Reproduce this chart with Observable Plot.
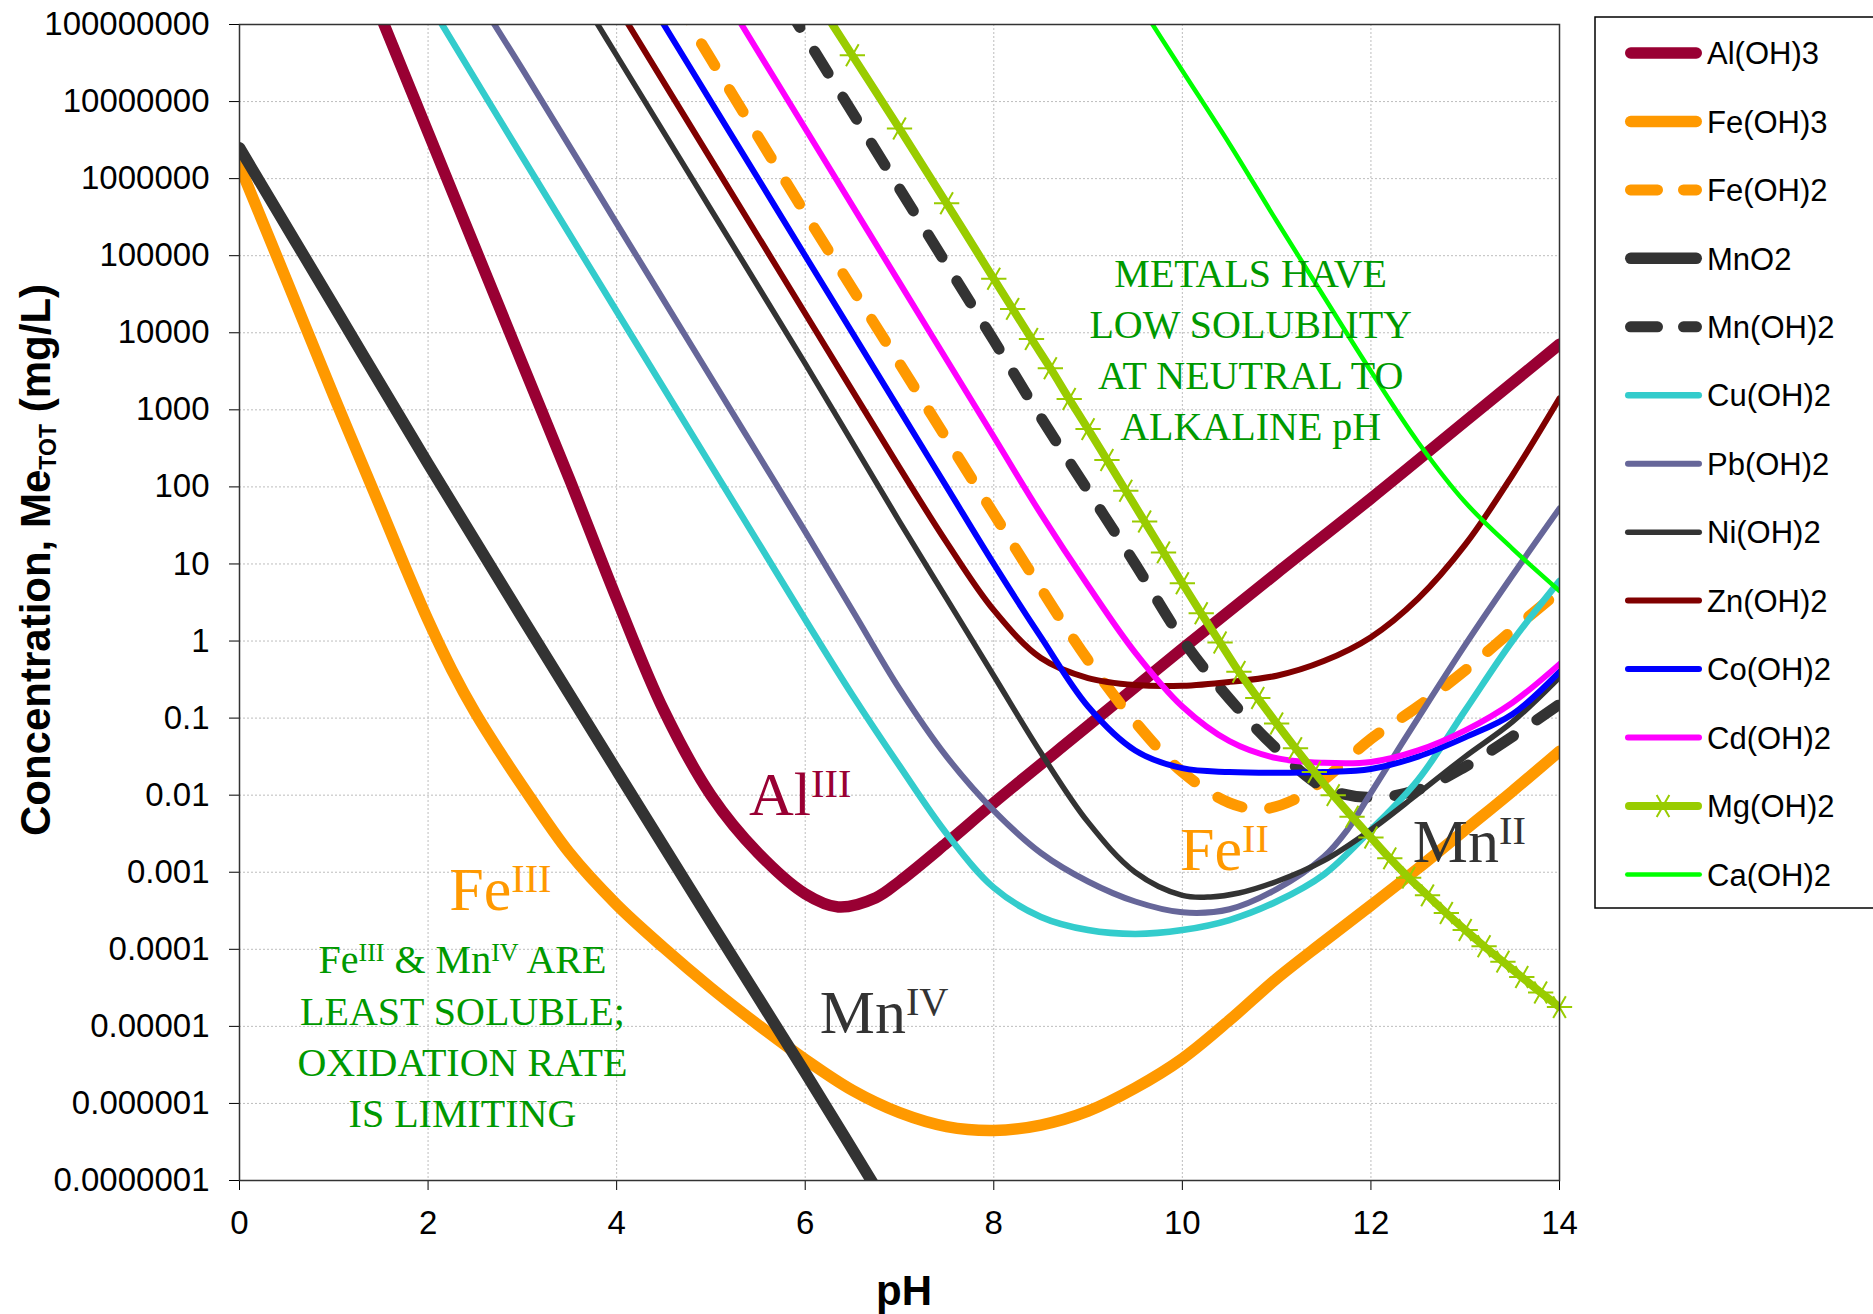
<!DOCTYPE html>
<html>
<head>
<meta charset="utf-8">
<script src="https://cdn.jsdelivr.net/npm/d3@7"></script>
<script src="https://cdn.jsdelivr.net/npm/@observablehq/plot@0.6"></script>
<style>
html, body { margin: 0; padding: 0; background: #fff; }
#wrap { position: relative; width: 1873px; height: 1314px; overflow: hidden; background: #fff; }
</style>
</head>
<body>
<div id="wrap"></div>
<script>
// ---------- axis ticks ----------
const xTicks = [0, 2, 4, 6, 8, 10, 12, 14];
const yTicks = [1e-7, 1e-6, 1e-5, 1e-4, 1e-3, 1e-2, 1e-1, 1, 10, 100, 1e3, 1e4, 1e5, 1e6, 1e7, 1e8];
const yTickLabels = ["0.0000001", "0.000001", "0.00001", "0.0001", "0.001", "0.01", "0.1", "1", "10", "100",
  "1000", "10000", "100000", "1000000", "10000000", "100000000"];

// ---------- series: [pH, log10 concentration (mg/L)] ----------
const alOH3 = [[1.4,8.4],[2,6.6],[2.5,5.1],[3,3.6],[3.5,2.1],[4,0.55],[4.5,-0.9],[5,-2.0],[5.5,-2.75],[6,-3.28],[6.35,-3.45],[6.75,-3.33],[7,-3.12],[7.5,-2.62],[8,-2.1],[9,-1.1],[10,-0.1],[11,0.88],[12,1.85],[13,2.85],[14,3.85]];
const feOH3 = [[0,6.17],[0.5,4.68],[1,3.18],[1.5,1.72],[1.75,0.98],[2,0.27],[2.25,-0.37],[2.5,-0.93],[2.75,-1.42],[3,-1.88],[3.5,-2.75],[4,-3.42],[4.5,-3.98],[5,-4.5],[5.5,-4.98],[6,-5.43],[6.5,-5.83],[7,-6.12],[7.5,-6.3],[8,-6.35],[8.5,-6.28],[9,-6.1],[9.5,-5.8],[10,-5.42],[10.5,-4.92],[11,-4.38],[11.5,-3.9],[12,-3.43],[12.5,-2.95],[13,-2.45],[13.5,-1.95],[14,-1.43]];
const feOH2 = [[4.6,8.35],[5,7.55],[6,5.55],[7,3.6],[8,1.65],[8.5,0.68],[9,-0.25],[9.5,-1.05],[10,-1.7],[10.5,-2.1],[10.85,-2.18],[11.2,-2.05],[11.5,-1.8],[12,-1.27],[12.5,-0.85],[13,-0.38],[13.5,0.14],[14,0.65]];
const mnO2 = [[0,6.4],[1,4.35],[2,2.3],[3,0.3],[4,-1.68],[5,-3.65],[6,-5.6],[7,-7.6]];
const mnOH2 = [[5.8,8.25],[6,7.85],[7,5.87],[8,3.9],[8.5,2.9],[9,1.95],[9.5,1.0],[10,0.02],[10.5,-0.75],[11,-1.4],[11.5,-1.9],[12,-2.03],[12.5,-1.93],[13,-1.63],[13.5,-1.24],[14,-0.82]];
const cuOH2 = [[2.0,8.3],[3,6.28],[4,4.28],[5,2.28],[5.5,1.28],[6,0.28],[6.5,-0.7],[7,-1.62],[7.5,-2.5],[8,-3.2],[8.5,-3.58],[9,-3.75],[9.5,-3.8],[10,-3.75],[10.5,-3.62],[11,-3.38],[11.5,-3.03],[12,-2.45],[12.5,-1.8],[13,-0.9],[13.5,0.0],[14,0.78]];
const pbOH2 = [[2.55,8.3],[3,7.42],[4,5.42],[5,3.42],[5.5,2.42],[6,1.42],[6.5,0.4],[7,-0.62],[7.5,-1.5],[8,-2.2],[8.5,-2.75],[9,-3.12],[9.5,-3.38],[10,-3.52],[10.5,-3.48],[11,-3.22],[11.5,-2.8],[11.75,-2.45],[12,-1.97],[12.5,-1.0],[13,-0.05],[13.5,0.85],[14,1.72]];
const niOH2 = [[3.65,8.3],[4,7.6],[5,5.6],[6,3.6],[7,1.55],[7.5,0.55],[8,-0.45],[8.5,-1.45],[9,-2.35],[9.5,-3.0],[10,-3.3],[10.3,-3.32],[10.6,-3.27],[11,-3.12],[11.5,-2.85],[12,-2.45],[12.5,-1.98],[13,-1.5],[13.5,-1.05],[14,-0.47]];
const znOH2 = [[4.0,8.25],[5,6.25],[6,4.25],[7,2.25],[7.5,1.28],[8,0.4],[8.5,-0.22],[9,-0.48],[9.5,-0.57],[10,-0.58],[10.5,-0.53],[11,-0.45],[11.5,-0.26],[12,0.05],[12.5,0.55],[13,1.25],[13.5,2.15],[14,3.15]];
const coOH2 = [[4.35,8.3],[5,7.0],[6,5.0],[7,3.0],[7.5,2.0],[8,1.0],[8.5,0.05],[9,-0.85],[9.5,-1.42],[10,-1.65],[10.5,-1.7],[11,-1.71],[11.5,-1.7],[12,-1.66],[12.5,-1.5],[13,-1.25],[13.5,-0.95],[14,-0.4]];
const cdOH2 = [[5.2,8.25],[6,6.65],[7,4.65],[8,2.65],[8.5,1.65],[9,0.72],[9.5,-0.15],[10,-0.85],[10.5,-1.3],[11,-1.52],[11.5,-1.58],[12,-1.57],[12.5,-1.42],[13,-1.16],[13.5,-0.8],[14,-0.3]];
const mgOH2 = [[6.0,8.55],[6.5,7.6],[7,6.65],[7.5,5.68],[8,4.7],[8.2,4.31],[8.4,3.92],[8.6,3.54],[8.8,3.14],[9,2.75],[9.2,2.35],[9.4,1.95],[9.6,1.55],[9.8,1.15],[10,0.75],[10.2,0.36],[10.4,-0.02],[10.6,-0.4],[10.8,-0.74],[11,-1.07],[11.2,-1.39],[11.4,-1.7],[11.6,-2.0],[11.8,-2.28],[12,-2.55],[12.2,-2.82],[12.4,-3.07],[12.6,-3.3],[12.8,-3.53],[13,-3.75],[13.2,-3.96],[13.4,-4.16],[13.6,-4.36],[13.8,-4.56],[14,-4.75]];
const caOH2 = [[9.5,8.35],[10,7.4],[10.5,6.45],[11,5.45],[11.5,4.47],[12,3.5],[12.5,2.58],[13,1.8],[13.5,1.2],[14,0.65]];

const seriesNames = ["Al(OH)3","Fe(OH)3","Fe(OH)2","MnO2","Mn(OH)2","Cu(OH)2","Pb(OH)2","Ni(OH)2","Zn(OH)2","Co(OH)2","Cd(OH)2","Mg(OH)2","Ca(OH)2"];
const seriesData = [alOH3, feOH3, feOH2, mnO2, mnOH2, cuOH2, pbOH2, niOH2, znOH2, coOH2, cdOH2, mgOH2, caOH2];

// ---------- styles ----------
const seriesColors = ["#990033","#FF9900","#FF9900","#333333","#333333","#33CCCC","#666699","#333333","#800000","#0000FF","#FF00FF","#99CC00","#00FF00"];
const seriesWidths = [11.5, 11.5, 11, 11.5, 11, 6.5, 6, 5.5, 6, 6, 6, 8, 4.5];
const seriesDash = [null, null, "26,28", null, "26,28", null, null, null, null, null, null, null, null];
const markerSeries = "Mg(OH)2";

const toRows = (pairs) => pairs.map(([pH, logC]) => ({pH, conc: Math.pow(10, logC)}));

const marks = [
  Plot.ruleX(xTicks, {stroke: "#bdbdbd", strokeWidth: 1, strokeDasharray: "2,2"}),
  Plot.ruleY(yTicks, {stroke: "#bdbdbd", strokeWidth: 1, strokeDasharray: "2,2"})
];
seriesNames.forEach((name, i) => {
  const rows = toRows(seriesData[i]);
  marks.push(Plot.line(rows, {
    x: "pH", y: "conc",
    stroke: seriesColors[i], strokeWidth: seriesWidths[i],
    strokeDasharray: seriesDash[i] || undefined,
    strokeLinecap: "round", strokeLinejoin: "round",
    curve: "catmull-rom", clip: true
  }));
  if (name === markerSeries) {
    marks.push(Plot.dot(rows.filter(d => d.conc <= 1e8), {
      x: "pH", y: "conc", symbol: "asterisk", r: 12, rotate: 90,
      stroke: seriesColors[i], strokeWidth: 2
    }));
  }
});
marks.push(Plot.frame({stroke: "#333", strokeWidth: 1.5}));

const W = 1873, H = 1314;
const plot = Plot.plot({
  width: W, height: H,
  marginLeft: 239, marginRight: 314, marginTop: 24, marginBottom: 134,
  style: {fontFamily: "'Liberation Sans', Arial, sans-serif", fontSize: "33px", color: "#000", background: "#fff", overflow: "visible"},
  x: {domain: [0, 14], ticks: xTicks, tickSize: 10, tickPadding: 20, label: null, tickFormat: d => String(d)},
  y: {type: "log", domain: [1e-7, 1e8], ticks: yTicks, tickSize: 10, tickPadding: 20, label: null,
      tickFormat: d => yTickLabels[yTicks.indexOf(d)]},
  marks
});
document.getElementById("wrap").appendChild(plot);

// ---------- annotations (placed through the plot's scales) ----------
const sx = plot.scale("x"), sy = plot.scale("y");
const svg = d3.select(plot);
const serif = "'Liberation Serif', 'Times New Roman', serif";

function richText(g, parts, x, y, size, color, anchor, family, weight, supRatio, supShift) {
  const t = g.append("text")
    .attr("x", x).attr("y", y)
    .attr("text-anchor", anchor)
    .attr("fill", color)
    .style("font-family", family)
    .style("font-size", size + "px")
    .style("font-weight", weight)
    .style("white-space", "pre");
  let shifted = 0;
  parts.forEach(p => {
    const ts = t.append("tspan").text(p.t);
    if (p.sup) {
      ts.style("font-size", (size * supRatio) + "px").attr("dy", -supShift - shifted);
      shifted = -supShift;
    } else if (p.sub) {
      ts.style("font-size", (size * supRatio) + "px").attr("dy", supShift - shifted);
      shifted = supShift;
    } else if (shifted !== 0) {
      ts.attr("dy", -shifted);
      shifted = 0;
    }
  });
  return t;
}

const ann = svg.append("g");
// big element labels: [base, superscript, pH, log10 conc, color]
const bigLabels = [
  ["Al", "III", 5.41, -2.27, "#990033"],
  ["Fe", "III", 2.23, -3.50, "#FF9900"],
  ["Mn", "IV", 6.16, -5.09, "#333333"],
  ["Fe", "II", 9.98, -2.98, "#FF9900"],
  ["Mn", "II", 12.45, -2.87, "#333333"]
];
bigLabels.forEach(([b, s, pH, lc, col]) => {
  richText(ann, [{t: b}, {t: s, sup: true}], sx.apply(pH), sy.apply(Math.pow(10, lc)), 62, col, "start", serif, "normal", 0.65, 18);
});

const green = "#009900";
const note1 = ["METALS HAVE", "LOW SOLUBLITY", "AT NEUTRAL TO", "ALKALINE pH"];
const note1Y = [4.59, 3.93, 3.26, 2.60];
note1.forEach((line, i) => {
  richText(ann, [{t: line}], sx.apply(10.73), sy.apply(Math.pow(10, note1Y[i])), 40, green, "middle", serif, "normal", 0.65, 12);
});
const note2 = [
  [{t: "Fe"}, {t: "III", sup: true}, {t: " & Mn"}, {t: "IV", sup: true}, {t: " ARE"}],
  [{t: "LEAST SOLUBLE;"}],
  [{t: "OXIDATION RATE"}],
  [{t: "IS LIMITING"}]
];
const note2Y = [-4.31, -4.99, -5.65, -6.31];
note2.forEach((parts, i) => {
  richText(ann, parts, sx.apply(2.37), sy.apply(Math.pow(10, note2Y[i])), 40, green, "middle", serif, "normal", 0.65, 12);
});

// ---------- axis titles ----------
const sans = "'Liberation Sans', Arial, sans-serif";
richText(ann, [{t: "pH"}], 904, 1305, 42, "#000", "middle", sans, "bold", 1, 0);
const yt = richText(ann, [{t: "Concentration, Me"}, {t: "TOT", sub: true}, {t: " (mg/L)"}], 0, 0, 42, "#000", "middle", sans, "bold", 0.55, 6);
yt.attr("transform", "translate(50,560) rotate(-90)");

// ---------- legend ----------
const leg = svg.append("g").attr("text-anchor", "start");
leg.append("rect").attr("x", 1595).attr("y", 17).attr("width", 300).attr("height", 891)
  .attr("fill", "#fff").attr("stroke", "#000").attr("stroke-width", 1.5);
seriesNames.forEach((name, i) => {
  const cy = 53 + 68.45 * i;
  const w = seriesWidths[i];
  leg.append("line")
    .attr("x1", 1625 + w / 2).attr("x2", 1702 - w / 2).attr("y1", cy).attr("y2", cy)
    .attr("stroke", seriesColors[i]).attr("stroke-width", w)
    .attr("stroke-linecap", "round")
    .attr("stroke-dasharray", seriesDash[i] ? "27,26" : null);
  if (name === markerSeries) {
    leg.append("path").attr("d", d3.symbol(d3.symbolAsterisk, 12 * 12 * Math.PI)())
      .attr("transform", `translate(1663,${cy}) rotate(90)`)
      .attr("fill", "none").attr("stroke", seriesColors[i]).attr("stroke-width", 2);
  }
  leg.append("text").attr("x", 1707).attr("y", cy).attr("dy", "0.36em")
    .attr("text-anchor", "start")
    .style("font-family", sans).style("font-size", "31px").attr("fill", "#000")
    .text(name);
});
</script>
</body>
</html>
